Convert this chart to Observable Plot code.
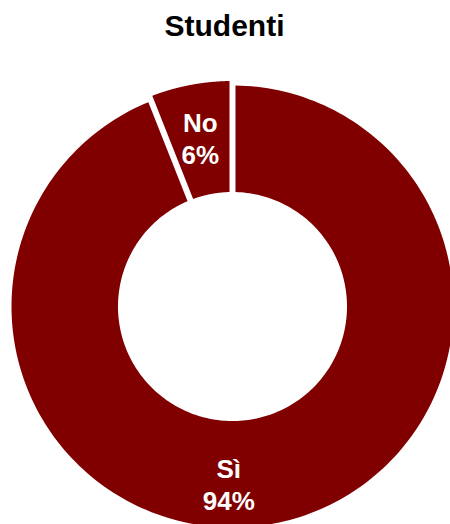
<!DOCTYPE html>
<html>
<head>
<meta charset="utf-8">
<script src="https://cdn.jsdelivr.net/npm/d3@7"></script>
<script src="https://cdn.jsdelivr.net/npm/@observablehq/plot@0.6"></script>
<style>
  html, body { margin: 0; padding: 0; background: #fff; overflow: hidden; }
  #title {
    width: 450px; height: 52px; line-height: 52px; text-align: center;
    font-family: "Liberation Sans", Arial, sans-serif; font-weight: bold;
    font-size: 30px; color: #000; text-indent: -1px;
  }
  #chart svg { display: block; }
</style>
</head>
<body>
<div id="title"></div>
<div id="chart"></div>
<script>
// ---- data ----
const titleText = "Studenti";
const categories = ["Sì", "No"];
const values = [94, 6];
const percentLabels = ["94%", "6%"];

// ---- layout / style ----
const W = 450, H = 472;
const CX = 232, CY = 254;
const R_OUT = 221, R_IN = 114.5;
const PAD = 3;                       // half of the white gap between slices
const COLOR = "#800000";
const outerExtra = {"No": 4.5};      // slightly larger "No" slice
const labelTweak = {"Sì": {da: 12 * Math.PI / 180, dr: 4}, "No": {da: 0, dr: -1}};
const LABEL_R = 173;

document.getElementById("title").textContent = titleText;

const table = categories.map((c, i) => ({cat: c, value: values[i], pct: percentLabels[i]}));
const arcs = d3.pie().sort(null).value(d => d.value).startAngle(0).endAngle(2 * Math.PI)(table);

const px = (rho, th) => CX + rho * Math.sin(th);
const py = (rho, th) => CY - rho * Math.cos(th);

const pts = [];
for (const a of arcs) {
  const ro = R_OUT + (outerExtra[a.data.cat] || 0);
  const ri = R_IN;
  const o0 = a.startAngle + Math.asin(PAD / ro), o1 = a.endAngle - Math.asin(PAD / ro);
  const i0 = a.startAngle + Math.asin(PAD / ri), i1 = a.endAngle - Math.asin(PAD / ri);
  const N = 240;
  for (let k = 0; k <= N; k++) {
    const t = o0 + (o1 - o0) * k / N;
    pts.push({cat: a.data.cat, x: px(ro, t), y: py(ro, t)});
  }
  for (let k = 0; k <= N; k++) {
    const t = i1 + (i0 - i1) * k / N;
    pts.push({cat: a.data.cat, x: px(ri, t), y: py(ri, t)});
  }
}

const labels = arcs.map(a => {
  const tw = labelTweak[a.data.cat] || {da: 0, dr: 0};
  const mid = (a.startAngle + a.endAngle) / 2 + tw.da;
  const rl = LABEL_R + tw.dr;
  return {cat: a.data.cat, text: a.data.cat + "\n" + a.data.pct, x: px(rl, mid), y: py(rl, mid)};
});

const chart = Plot.plot({
  width: W, height: H,
  margin: 0,
  x: {domain: [0, W], range: [0, W], axis: null},
  y: {domain: [0, H], range: [0, H], axis: null},
  style: {background: "white"},
  marks: [
    Plot.line(pts, {x: "x", y: "y", z: "cat", fill: COLOR, stroke: "none", curve: "linear-closed"}),
    Plot.text(labels, {
      x: "x", y: "y", text: "text", fill: "white",
      fontSize: 26, fontWeight: "bold",
      fontFamily: "Liberation Sans, Arial, sans-serif",
      lineHeight: 1.24
    })
  ]
});
document.getElementById("chart").appendChild(chart);
</script>
</body>
</html>
